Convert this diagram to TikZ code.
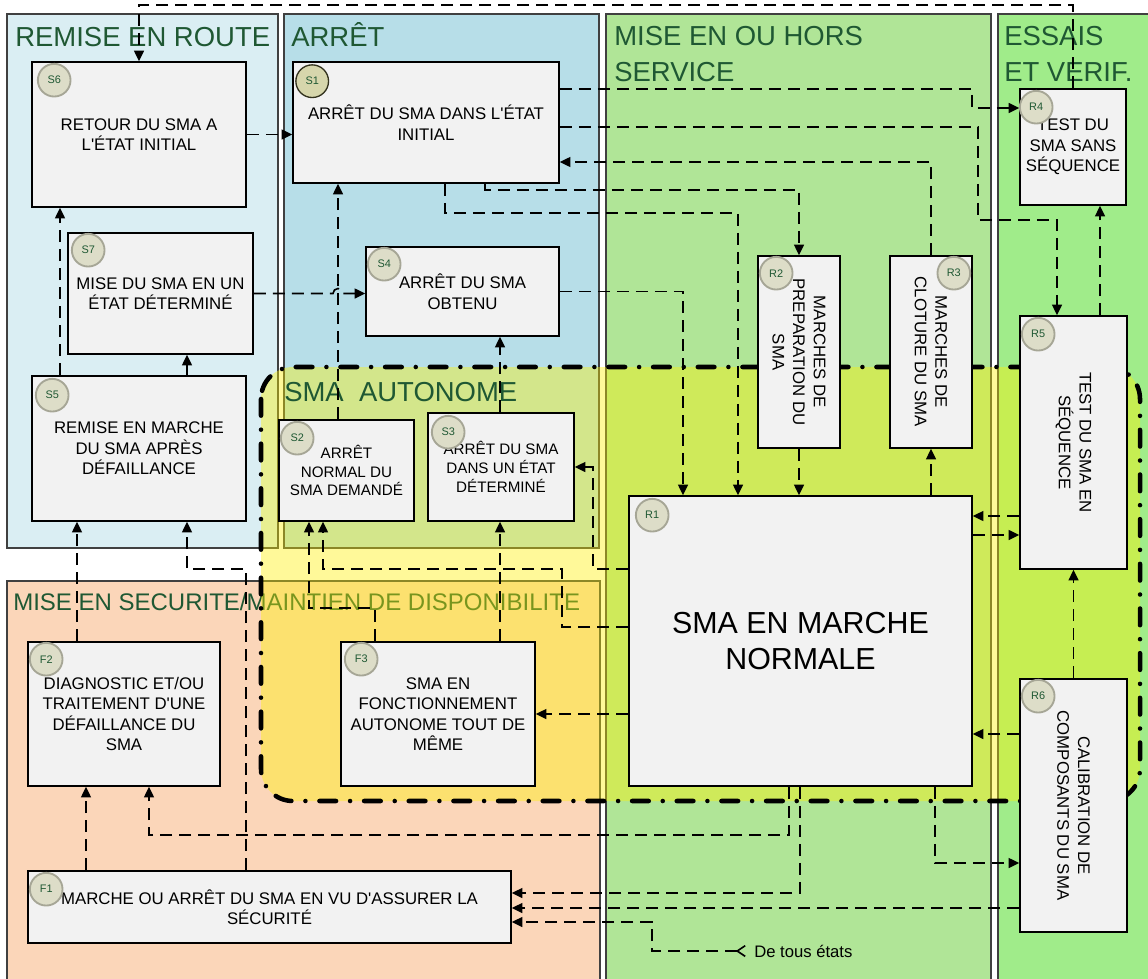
\documentclass[tikz,border=0pt]{standalone}
\usepackage{fontspec}
\setmainfont{Liberation Sans}[Ligatures=TeXOff]
\usepackage{graphicx}
\usetikzlibrary{arrows.meta}

\definecolor{routefill}{RGB}{218,238,243}
\definecolor{arretfill}{RGB}{183,222,232}
\definecolor{servicefill}{RGB}{176,229,151}
\definecolor{essaifill}{RGB}{160,236,138}
\definecolor{securfill}{RGB}{251,214,185}
\definecolor{boxfill}{RGB}{242,242,242}
\definecolor{tagfill}{RGB}{221,221,200}
\definecolor{tagline}{RGB}{166,166,150}
\definecolor{titlegreen}{RGB}{31,88,51}
\definecolor{panelline}{RGB}{64,64,64}

\tikzset{
  >={Triangle[length=8pt,width=7.5pt]},
  panel/.style={draw=panelline, line width=0.8pt},
  zone/.style={anchor=base west, inner sep=0pt, text=titlegreen,
    font=\fontsize{20.6}{27}\selectfont},
  autonome/.style={line width=3.4pt, line cap=round,
    dash pattern=on 12.5pt off 10.5pt on 0pt off 10.5pt},
  etat/.style={draw, fill=boxfill, line width=1.2pt, inner sep=0pt,
    align=center, font=\fontsize{12.6}{15.4}\selectfont},
  etatpetit/.style={font=\fontsize{11.4}{14}\selectfont},
  etatgrand/.style={font=\fontsize{22.8}{27.5}\selectfont},
  vtext/.style={rotate=-90, align=center, inner sep=0pt,
    font=\fontsize{12.6}{15.4}\selectfont},
  tag/.style={circle, draw=tagline, fill=tagfill, line width=1.4pt,
    minimum size=24.5pt, inner sep=0pt, text=titlegreen,
    font=\fontsize{8.2}{9}\selectfont},
  link/.style={line width=1.2pt, dash pattern=on 9pt off 5.25pt, ->},
}

\begin{document}
\begin{tikzpicture}[x=0.75pt, y=-0.75pt]
  \useasboundingbox (0,0) rectangle (1148,978);
  \fill[white] (0,0) rectangle (1148,978);

  \draw[panel, fill=routefill] (7,14) rectangle (278,548);
  \draw[panel, fill=arretfill] (284,14) rectangle (599,548);
  \draw[panel, fill=servicefill] (606,14) rectangle (991,990);
  \draw[panel, fill=essaifill] (998,14) rectangle (1160,990);
  \draw[panel, fill=securfill] (7,581) rectangle (600,990);

  \node[zone] (zroute) at (15,46) {REMISE EN ROUTE};
  \node[zone] (zarret) at (291,46) {ARRÊT};
  \node[zone, anchor=north west, align=left] (zservice) at (614,26.3) {MISE EN OU HORS\\SERVICE};
  \node[zone, anchor=north west, align=left] (zessai) at (1004,26.3) {ESSAIS\\ET VERIF.};
  \node[zone, font=\fontsize{18}{22}\selectfont] (zsecur) at (13,610) {MISE EN SECURITE/MAINTIEN DE DISPONIBILITE};

  \fill[yellow, fill opacity=0.4, rounded corners=24pt] (261,367) rectangle (1140,801);
  \draw[autonome, rounded corners=24pt] (261,367) rectangle (1140,801);
  \node[zone] (zauto) at (284,401) {SMA\ \ AUTONOME};

  \node[etat, minimum width=160.5pt, minimum height=108.75pt] (s6) at (139,134.5) {RETOUR DU SMA A\\L'ÉTAT INITIAL};
  \node[etat, minimum width=199.5pt, minimum height=90.75pt] (s1) at (426,122.5) {ARRÊT DU SMA DANS L'ÉTAT\\INITIAL};
  \node[etat, minimum width=138.75pt, minimum height=90.75pt] (s7) at (160.5,293.5) {MISE DU SMA EN UN\\ÉTAT DÉTERMINÉ};
  \node[etat, minimum width=144.75pt, minimum height=66.75pt] (s4) at (462.5,291.5) {ARRÊT DU SMA\\OBTENU};
  \node[etat, minimum width=160.5pt, minimum height=108.75pt] (s5) at (139,448.5) {REMISE EN MARCHE\\DU SMA APRÈS\\DÉFAILLANCE};
  \node[etat, etatpetit, minimum width=101.25pt, minimum height=75.75pt] (s2) at (346.5,470.5) {ARRÊT\\NORMAL DU\\SMA DEMANDÉ};
  \node[etat, etatpetit, minimum width=109.5pt, minimum height=81pt] (s3) at (501,467) {ARRÊT DU SMA\\DANS UN ÉTAT\\DÉTERMINÉ};
  \node[etat, minimum width=61.5pt, minimum height=144pt] (r2) at (799,352) {};
  \node[etat, minimum width=61.5pt, minimum height=144pt] (r3) at (931,352) {};
  \node[etat, minimum width=79.5pt, minimum height=87pt] (r4) at (1073,147) {TEST DU\\SMA SANS\\SÉQUENCE};
  \node[etat, minimum width=80.25pt, minimum height=189.75pt] (r5) at (1073.5,442.5) {};
  \node[etat, etatgrand, minimum width=257.25pt, minimum height=217.5pt] (r1) at (800.5,641) {SMA EN MARCHE\\NORMALE};
  \node[etat, minimum width=80.25pt, minimum height=189.75pt] (r6) at (1073.5,805.5) {};
  \node[etat, minimum width=144pt, minimum height=108pt] (f2) at (124,714) {DIAGNOSTIC ET/OU\\TRAITEMENT D'UNE\\DÉFAILLANCE DU\\SMA};
  \node[etat, minimum width=145.5pt, minimum height=108pt] (f3) at (438,714) {SMA EN\\FONCTIONNEMENT\\AUTONOME TOUT DE\\MÊME};
  \node[etat, minimum width=362.25pt, minimum height=54pt] (f1) at (269.5,907) {MARCHE OU ARRÊT DU SMA EN VU D'ASSURER LA\\SÉCURITÉ};

  \node[vtext] (r2txt) at (r2) {MARCHES DE\\PREPARATION DU\\SMA};
  \node[vtext] (r3txt) at (r3) {MARCHES DE\\CLOTURE DU SMA};
  \node[vtext] (r5txt) at (r5) {TEST DU SMA EN\\SÉQUENCE};
  \node[vtext] (r6txt) at (r6) {CALIBRATION DE\\COMPOSANTS DU SMA};

  \node[tag, fill={rgb,255:red,214;green,214;blue,172}, draw={rgb,255:red,50;green,50;blue,30}, line width=1pt] (tags1) at ([shift={(20,20)}]s1.north west) {S1};
  \node[tag] (tags6) at ([shift={(23,19)}]s6.north west) {S6};
  \node[tag] (tags7) at ([shift={(21,18)}]s7.north west) {S7};
  \node[tag] (tags4) at ([shift={(19,18)}]s4.north west) {S4};
  \node[tag] (tags5) at ([shift={(21,20)}]s5.north west) {S5};
  \node[tag] (tags2) at ([shift={(19,19)}]s2.north west) {S2};
  \node[tag] (tags3) at ([shift={(21,20)}]s3.north west) {S3};
  \node[tag] (tagr1) at ([shift={(24,20)}]r1.north west) {R1};
  \node[tag] (tagr2) at ([shift={(19,18)}]r2.north west) {R2};
  \node[tag] (tagr3) at ([shift={(-19,18)}]r3.north east) {R3};
  \node[tag] (tagr4) at ([shift={(17,19)}]r4.north west) {R4};
  \node[tag] (tagr5) at ([shift={(19,19)}]r5.north west) {R5};
  \node[tag] (tagr6) at ([shift={(19,18)}]r6.north west) {R6};
  \node[tag] (tagf1) at ([shift={(19,19)}]f1.north west) {F1};
  \node[tag] (tagf2) at ([shift={(19,18)}]f2.north west) {F2};
  \node[tag] (tagf3) at ([shift={(21,18)}]f3.north west) {F3};

  \node[anchor=west, inner sep=6pt, font=\fontsize{12.5}{15}\selectfont] (tous) at (746,951) {De tous états};

  \path[link]
    (s6.east) edge (s1.west |- s6.east)
    (s2.north -| 338,0) edge (s1.south -| 338,0)
    (s3.north -| 500,0) edge (s4.south -| 500,0)
    (s5.north -| 60,0) edge (s6.south -| 60,0)
    (f2.north -| 77,0) edge (s5.south -| 77,0)
    (f1.north -| 86,0) edge (f2.south -| 86,0)
    (f3.north -| 500,0) edge (s3.south -| 500,0)
    (r2.south) edge (r1.north -| r2.south)
    (r1.north -| r3.south) edge (r3.south)
    (r1.west |- f3.east) edge (f3.east)
    (r5.west |- 0,516) edge (r1.east |- 0,516)
    (r1.east |- 0,535) edge (r5.west |- 0,535)
    (r6.north) edge (r5.south)
    (r5.north -| 1100,0) edge (r4.south -| 1100,0)
    (r6.west |- 0,734) edge (r1.east |- 0,734)
    (r6.west |- 0,908) edge (f1.east |- 0,908);
  \draw[link, solid] (s5.north -| 187,0) -- (s7.south -| 187,0);

  \draw[link] (r4.north) -- (r4.north |- 0,5) -| (s6.north);
  \draw[link] (s1.east |- 0,89) -| (972,108) -- (r4.west |- 0,108);
  \draw[link] (s1.east |- 0,127) -| (978,220) -| (r5.north -| 1057,0);
  \draw[link] (r3.north) |- (s1.east |- 0,162);
  \draw[link] (s1.south -| 485,0) -- (485,190) -| (r2.north);
  \draw[link] (s1.south -| 445,0) -- (445,213) -| (r1.north -| 738,0);
  \draw[link] (s4.east) -| (r1.north -| 683,0);
  \draw[link] (s7.east) -- (333,293.5) arc[start angle=180, end angle=360, radius=5] -- (s4.west |- s7.east);
  \draw[link] (f1.north -| 246,0) -- (246,569) -| (s5.south -| 187,0);
  \draw[link] (r1.south -| 789,0) |- (149,835) -- (f2.south -| 149,0);
  \draw[link] (r1.south -| 800,0) |- (f1.east |- 0,893);
  \draw[link, {Straight Barb[reversed,length=6pt,width=8pt]}->] (tous.west) -- (652,951) |- (f1.east |- 0,922);
  \draw[link] (r1.west |- 0,627) -| (562,569) -| (s2.south -| 323,0);
  \draw[link] (r1.west |- 0,569) -| (s3.east -| 593,0) -- (s3.east);
  \draw[link] (f3.north -| 375,0) |- (309,608) -- (s2.south -| 309,0);
  \draw[link] (r1.south -| 935,0) |- (r6.west |- 0,863);
\end{tikzpicture}
\end{document}
